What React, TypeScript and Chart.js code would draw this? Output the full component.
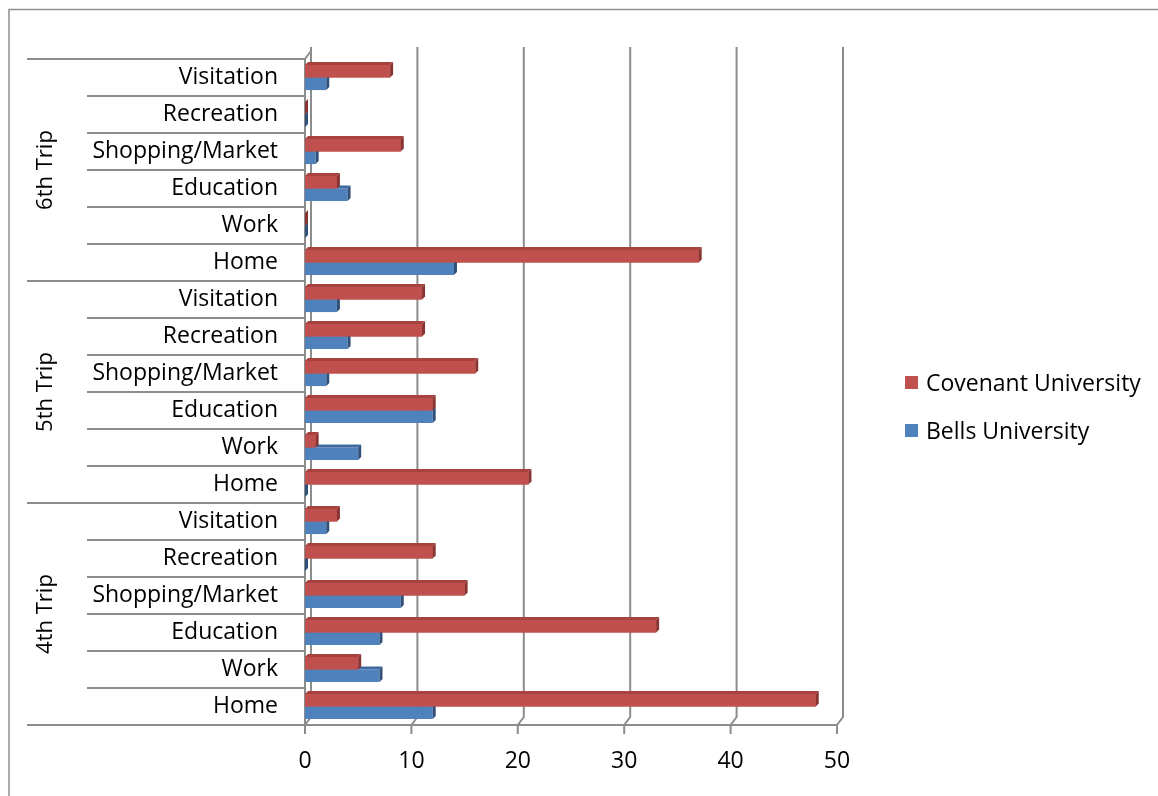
import React, { useEffect, useRef } from "react";
import { Chart, registerables } from "chart.js";
Chart.register(...registerables);

// Rows listed top to bottom within each trip group
const groups = ["6th Trip", "5th Trip", "4th Trip"];
const purposes = ["Visitation", "Recreation", "Shopping/Market", "Education", "Work", "Home"];
const covenant6th = [8, 0, 9, 3, 0, 37];
const bells6th = [2, 0, 1, 4, 0, 14];
const covenant5th = [11, 11, 16, 12, 1, 21];
const bells5th = [3, 4, 2, 12, 5, 0];
const covenant4th = [3, 12, 15, 33, 5, 48];
const bells4th = [2, 0, 9, 7, 7, 12];
const xTicks = [0, 10, 20, 30, 40, 50];
const seriesNames = ["Covenant University", "Bells University"];

const FONT = "'Open Sans', sans-serif";
const RED = "#C0504D";
const BLUE = "#4F81BD";
const GRID = "#8c8c8c";

const labels = [...purposes, ...purposes, ...purposes];
const covenantAll = [...covenant6th, ...covenant5th, ...covenant4th];
const bellsAll = [...bells6th, ...bells5th, ...bells4th];

const faces: Record<number, { top: string; side: string; front: string }> = {
  0: { top: "#a8423f", side: "#8a3432", front: RED },
  1: { top: "#3f6aa0", side: "#2f5079", front: BLUE },
};

const decorPlugin = {
  id: "decor",
  beforeDatasetsDraw(chart: any) {
    const ctx = chart.ctx;
    const ca = chart.chartArea;
    const x = chart.scales.x;
    ctx.save();
    // outer border
    ctx.strokeStyle = "#8f8f8f";
    ctx.lineWidth = 1.5;
    ctx.strokeRect(9, 9.5, 3000, 3000);

    const DX = 6, DY = 8;
    ctx.strokeStyle = GRID;
    ctx.lineWidth = 2;
    // gridlines (back wall) with floor diagonals and tick marks
    xTicks.forEach((v) => {
      const px = x.getPixelForValue(v);
      ctx.beginPath();
      ctx.moveTo(px + DX, ca.top - 12);
      ctx.lineTo(px + DX, ca.bottom - DY);
      ctx.lineTo(px, ca.bottom);
      ctx.lineTo(px, ca.bottom + 9);
      ctx.stroke();
    });
    // front floor line
    ctx.beginPath();
    ctx.moveTo(ca.left, ca.bottom);
    ctx.lineTo(x.getPixelForValue(50), ca.bottom);
    ctx.stroke();
    // left wall front edge + top diagonal
    ctx.beginPath();
    ctx.moveTo(ca.left, ca.bottom);
    ctx.lineTo(ca.left, ca.top);
    ctx.lineTo(ca.left + DX, ca.top - DY);
    ctx.stroke();
    // row separators
    const n = labels.length;
    const step = (ca.bottom - ca.top) / n;
    for (let k = 0; k <= n; k++) {
      const yy = ca.top + k * step;
      const isGroup = k % purposes.length === 0;
      ctx.beginPath();
      ctx.moveTo(isGroup ? 27 : 87, yy);
      ctx.lineTo(ca.left, yy);
      ctx.stroke();
    }
    // group labels (rotated)
    ctx.fillStyle = "#000";
    ctx.font = `22px ${FONT}`;
    ctx.textAlign = "center";
    ctx.textBaseline = "middle";
    groups.forEach((g, gi) => {
      const cy = ca.top + (gi * purposes.length + purposes.length / 2) * step;
      ctx.save();
      ctx.translate(46, cy);
      ctx.rotate(-Math.PI / 2);
      ctx.fillText(g, 0, 0);
      ctx.restore();
    });
    ctx.restore();
  },
  afterDatasetsDraw(chart: any) {
    const ctx = chart.ctx;
    const d = 3;
    const metas = [chart.getDatasetMeta(0), chart.getDatasetMeta(1)];
    ctx.save();
    const n = labels.length;
    for (let i = 0; i < n; i++) {
      // draw lower (blue) first, then redraw red on top
      [1, 0].forEach((di) => {
        const bar = metas[di].data[i];
        if (!bar) return;
        const p = bar.getProps(["x", "y", "base", "height"], true);
        const top = p.y - p.height / 2;
        const bot = p.y + p.height / 2;
        const ex = p.x, b = p.base;
        const f = faces[di];
        if (di === 0) {
          ctx.fillStyle = f.front;
          ctx.fillRect(b, top, ex - b, bot - top);
        }
        ctx.fillStyle = f.top;
        ctx.beginPath();
        ctx.moveTo(b, top);
        ctx.lineTo(b + d, top - d);
        ctx.lineTo(ex + d, top - d);
        ctx.lineTo(ex, top);
        ctx.closePath();
        ctx.fill();
        ctx.fillStyle = f.side;
        ctx.beginPath();
        ctx.moveTo(ex, top);
        ctx.lineTo(ex + d, top - d);
        ctx.lineTo(ex + d, bot - d);
        ctx.lineTo(ex, bot);
        ctx.closePath();
        ctx.fill();
      });
    }
    ctx.restore();
  },
};

export default function App() {
  const ref = useRef<HTMLCanvasElement | null>(null);
  useEffect(() => {
    if (!ref.current) return;
    const chart = new Chart(ref.current, {
      type: "bar",
      data: {
        labels,
        datasets: [
          { label: seriesNames[0], data: covenantAll, backgroundColor: RED, categoryPercentage: 0.68, barPercentage: 1 },
          { label: seriesNames[1], data: bellsAll, backgroundColor: BLUE, categoryPercentage: 0.68, barPercentage: 1 },
        ],
      },
      options: {
        indexAxis: "y",
        animation: false,
        responsive: false,
        maintainAspectRatio: false,
        layout: { padding: { left: 0, top: 59, right: 321, bottom: 0 } },
        plugins: { legend: { display: false }, tooltip: { enabled: false } },
        scales: {
          x: {
            min: 0,
            max: 50,
            afterBuildTicks: (s: any) => {
              s.ticks = xTicks.map((v) => ({ value: v }));
            },
            afterFit: (s: any) => {
              s.height = 71;
            },
            grid: { display: false },
            border: { display: false },
            ticks: { color: "#000", font: { family: FONT, size: 23 }, padding: 15 },
          },
          y: {
            afterFit: (s: any) => {
              s.width = 305;
            },
            grid: { display: false },
            border: { display: false },
            ticks: { color: "#000", font: { family: FONT, size: 23 }, padding: 19, autoSkip: false },
          },
        },
      },
      plugins: [decorPlugin],
    } as any);
    return () => chart.destroy();
  }, []);

  const legendItem = (name: string, color: string, top: number) => (
    <div style={{ position: "absolute", left: 905, top, display: "flex", alignItems: "center", fontFamily: FONT, fontSize: 23, color: "#000", whiteSpace: "nowrap", lineHeight: "30px" }}>
      <span style={{ display: "inline-block", width: 13, height: 13, background: color, marginRight: 8 }} />
      <span>{name}</span>
    </div>
  );

  return (
    <div style={{ position: "absolute", left: 0, top: 0, width: 1158, height: 796, background: "#fff", overflow: "hidden" }}>
      <canvas ref={ref} width={1158} height={796} style={{ display: "block" }} />
      {legendItem(seriesNames[0], RED, 367)}
      {legendItem(seriesNames[1], BLUE, 415)}
    </div>
  );
}
